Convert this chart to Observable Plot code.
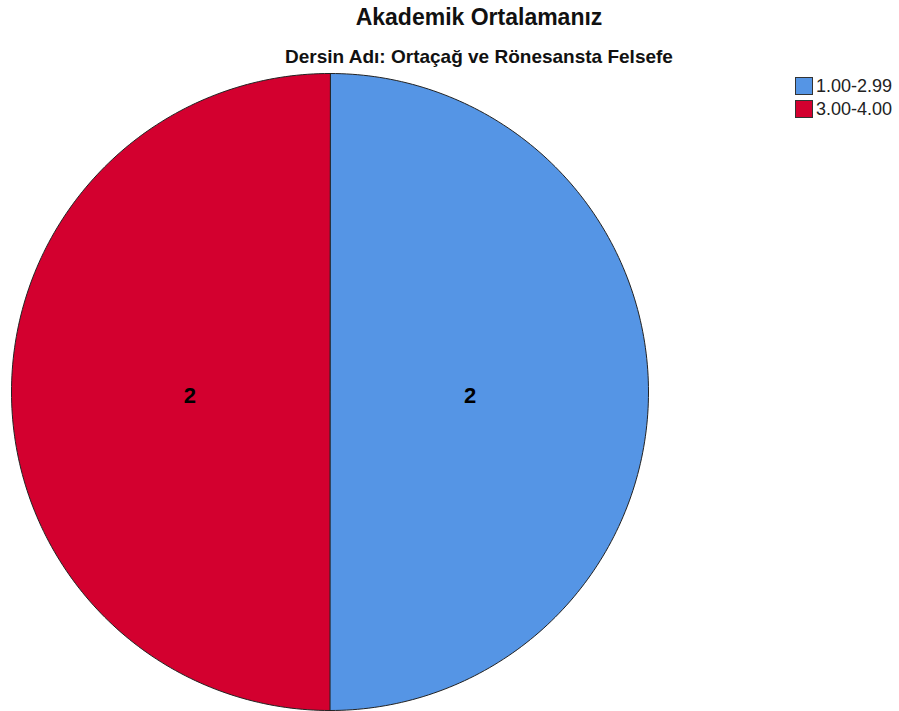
<!DOCTYPE html>
<html>
<head>
<meta charset="utf-8">
<script src="https://cdn.jsdelivr.net/npm/d3@7"></script>
<script src="https://cdn.jsdelivr.net/npm/@observablehq/plot@0.6"></script>
<style>
  body { margin: 0; background: #fff; font-family: "Liberation Sans", Arial, sans-serif; }
  #wrap { position: relative; width: 899px; height: 711px; overflow: hidden; }
  #chart { position: absolute; left: 0; top: 0; }
  .title { position: absolute; left: 0; width: 958px; text-align: center; color: #111; line-height: 1; white-space: nowrap; }
  #t1 { top: 6px; font-size: 23px; font-weight: bold; }
  #t2 { top: 47px; font-size: 19px; font-weight: bold; }
  #legend { position: absolute; left: 795px; top: 77px; font-size: 18px; color: #222; line-height: 1; }
  .item { position: relative; height: 23px; }
  .sw { position: absolute; left: 0; top: 0; width: 16px; height: 16px; border: 1px solid #333; }
  .lt { position: absolute; left: 21px; top: 0; white-space: nowrap; }
</style>
</head>
<body>
<div id="wrap">
  <div id="chart"></div>
  <div class="title" id="t1"></div>
  <div class="title" id="t2"></div>
  <div id="legend"></div>
</div>
<script>
const titleText = "Akademik Ortalamanız";
const subtitleText = "Dersin Adı: Ortaçağ ve Rönesansta Felsefe";
const categories = ["1.00-2.99", "3.00-4.00"];
const counts = [2, 2];
const colors = ["#5595e5", "#d3002f"];

document.getElementById("t1").textContent = titleText;
document.getElementById("t2").textContent = subtitleText;

const data = categories.map((c, i) => ({cat: c, value: counts[i]}));
const arcs = d3.pie().sort(null).value(d => d.value)(data);

// polygon points of each slice in unit-circle data space
const pts = [];
arcs.forEach(a => {
  const cat = a.data.cat;
  pts.push({cat, x: 0, y: 0});
  const n = 180;
  for (let k = 0; k <= n; k++) {
    const t = a.startAngle + (a.endAngle - a.startAngle) * k / n;
    pts.push({cat, x: Math.sin(t), y: Math.cos(t)});
  }
});
const labels = arcs.map(a => {
  const m = (a.startAngle + a.endAngle) / 2;
  return {cat: a.data.cat, label: String(a.data.value), x: 0.44 * Math.sin(m), y: 0.44 * Math.cos(m)};
});

const chart = Plot.plot({
  width: 899,
  height: 711,
  marginLeft: 11,
  marginRight: 251,
  marginTop: 73,
  marginBottom: 1,
  x: {domain: [-1, 1], axis: null},
  y: {domain: [-1, 1], axis: null},
  color: {domain: categories, range: colors},
  style: {background: "transparent", overflow: "visible"},
  marks: [
    Plot.line(pts, {x: "x", y: "y", z: "cat", fill: "cat", stroke: "#222", strokeWidth: 1, curve: "linear-closed", strokeLinejoin: "round"}),
    Plot.text(labels, {x: "x", y: "y", text: "label", fill: "#000", fontSize: 22, fontWeight: "bold", fontFamily: "Liberation Sans, Arial, sans-serif", dy: 4})
  ]
});
document.getElementById("chart").appendChild(chart);

const leg = document.getElementById("legend");
categories.forEach((c, i) => {
  const it = document.createElement("div");
  it.className = "item";
  const sw = document.createElement("div");
  sw.className = "sw";
  sw.style.background = colors[i];
  const tx = document.createElement("span");
  tx.className = "lt";
  tx.textContent = c;
  it.appendChild(sw); it.appendChild(tx);
  leg.appendChild(it);
});
</script>
</body>
</html>
